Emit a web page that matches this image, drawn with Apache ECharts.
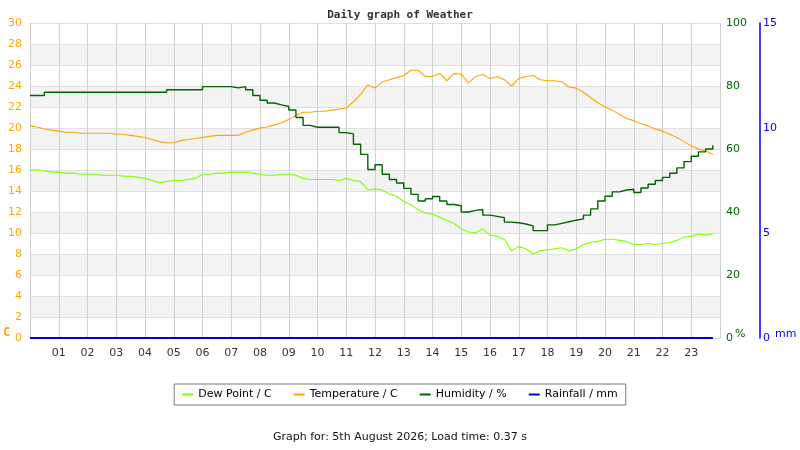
<!DOCTYPE html>
<html>
<head>
<meta charset="utf-8">
<script src="https://cdn.jsdelivr.net/npm/echarts@6/dist/echarts.min.js"></script>
<style>
  html, body { margin: 0; padding: 0; background: #fff; }
  #chart { width: 800px; height: 450px; }
</style>
</head>
<body>
<div id="chart"></div>
<script>
// readings every 15 minutes from 00:00 to 23:45
var dewPoint = [
  16.0, 16.0, 15.9, 15.8, 15.8, 15.7, 15.7, 15.6, 15.6, 15.6, 15.5, 15.5,
  15.5, 15.4, 15.4, 15.3, 15.2, 15.0, 14.8, 14.9, 15.0, 15.0, 15.1, 15.2,
  15.6, 15.6, 15.7, 15.7, 15.8, 15.8, 15.8, 15.7, 15.6, 15.5, 15.5, 15.6,
  15.6, 15.5, 15.2, 15.1, 15.1, 15.1, 15.1, 15.0, 15.2, 15.0, 14.9, 14.1,
  14.2, 14.1, 13.7, 13.5, 13.0, 12.7, 12.2, 11.9, 11.8, 11.5, 11.2, 10.9,
  10.4, 10.1, 10.0, 10.4, 9.8, 9.7, 9.4, 8.3, 8.7, 8.5, 8.0, 8.3,
  8.4, 8.5, 8.6, 8.3, 8.5, 8.9, 9.1, 9.2, 9.4, 9.4, 9.3, 9.2,
  8.9, 8.9, 9.0, 8.9, 9.0, 9.1, 9.3, 9.6, 9.7, 9.9, 9.8, 9.9
];
var temperature = [
  20.2, 20.1, 19.9, 19.8, 19.7, 19.6, 19.6, 19.5, 19.5, 19.5, 19.5, 19.5,
  19.4, 19.4, 19.3, 19.2, 19.1, 18.9, 18.7, 18.6, 18.6, 18.8, 18.9, 19.0,
  19.1, 19.2, 19.3, 19.3, 19.3, 19.3, 19.6, 19.8, 20.0, 20.1, 20.3, 20.5,
  20.8, 21.2, 21.5, 21.5, 21.6, 21.6, 21.7, 21.8, 21.9, 22.5, 23.2, 24.1,
  23.8, 24.4, 24.6, 24.8, 25.0, 25.5, 25.5, 24.9, 24.9, 25.2, 24.5, 25.2,
  25.1, 24.3, 24.9, 25.1, 24.7, 24.9, 24.6, 24.0, 24.7, 24.9, 25.0, 24.6,
  24.5, 24.5, 24.4, 23.9, 23.8, 23.4, 22.9, 22.4, 22.0, 21.7, 21.3, 20.9,
  20.7, 20.4, 20.2, 19.9, 19.7, 19.4, 19.1, 18.7, 18.3, 18.0, 17.8, 17.5
];
var humidity = [
  77, 77, 78, 78, 78, 78, 78, 78, 78, 78, 78, 78,
  78, 78, 78, 78, 78, 78, 78, 78.8, 78.8, 78.8, 78.8, 78.8,
  79.8, 79.8, 79.8, 79.8, 79.4, 79.8, 78.8, 77.0, 75.5, 74.6, 74.0, 73.5,
  72.4, 70.0, 67.5, 66.9, 66.9, 66.9, 66.9, 65.2, 64.8, 61.5, 58.3, 53.5,
  55.0, 52.0, 50.3, 49.2, 47.5, 45.6, 43.5, 44.2, 44.9, 43.5, 42.4, 42.0,
  40.0, 40.5, 40.8, 39.0, 38.6, 38.2, 36.8, 36.6, 36.2, 35.6, 34.1, 34.1,
  35.9, 36.4, 36.9, 37.4, 37.8, 39.0, 41.0, 43.5, 45.0, 46.4, 47.0, 47.2,
  46.2, 47.6, 48.8, 50.0, 51.0, 52.3, 54.0, 56.0, 57.7, 59.1, 60.0, 61.2
];
var rainfall = [
  0, 0, 0, 0, 0, 0, 0, 0, 0, 0, 0, 0, 0, 0, 0, 0, 0, 0, 0, 0, 0, 0, 0, 0,
  0, 0, 0, 0, 0, 0, 0, 0, 0, 0, 0, 0, 0, 0, 0, 0, 0, 0, 0, 0, 0, 0, 0, 0,
  0, 0, 0, 0, 0, 0, 0, 0, 0, 0, 0, 0, 0, 0, 0, 0, 0, 0, 0, 0, 0, 0, 0, 0,
  0, 0, 0, 0, 0, 0, 0, 0, 0, 0, 0, 0, 0, 0, 0, 0, 0, 0, 0, 0, 0, 0, 0, 0
];
var tempTicks = [0, 30, 2];   // min, max, step
var humTicks = [0, 100, 20];
var rainTicks = [0, 15, 5];

// time of each reading in hours
var hours = dewPoint.map(function (v, i) { return i / 4; });
function pairs(vals) {
  return vals.map(function (v, i) { return [hours[i], v]; });
}

var chart = echarts.init(document.getElementById('chart'), null, { renderer: 'canvas' });
var labelFont = 'DejaVu Sans';

chart.setOption({
  animation: false,
  backgroundColor: '#fff',
  title: {
    text: 'Daily graph of Weather',
    left: 'center',
    top: 5,
    textStyle: { fontFamily: 'DejaVu Sans Mono', fontSize: 11, fontWeight: 'bold', color: '#333' }
  },
  grid: { left: 30, right: 80, top: 23, bottom: 112 },
  legend: {
    bottom: 45,
    left: 'center',
    icon: 'rect',
    itemWidth: 11,
    itemHeight: 2,
    itemGap: 22,
    padding: [5, 8],
    borderColor: '#777',
    borderWidth: 1,
    borderRadius: 0,
    textStyle: { fontFamily: labelFont, fontSize: 11, color: '#000' },
    data: ['Dew Point / C', 'Temperature / C', 'Humidity / %', 'Rainfall / mm']
  },
  xAxis: {
    type: 'value',
    min: 0,
    max: 24,
    interval: 1,
    axisLine: { show: true, lineStyle: { color: '#d0d0d0' } },
    axisTick: { show: false },
    axisLabel: {
      margin: 10,
      fontFamily: labelFont,
      fontSize: 11,
      color: '#333',
      formatter: function (v) {
        if (v <= 0 || v >= 24) return '';
        return (v < 10 ? '0' : '') + v;
      }
    },
    splitLine: { show: true, lineStyle: { color: '#d0d0d0' } }
  },
  yAxis: [
    {
      type: 'value',
      min: tempTicks[0], max: tempTicks[1], interval: tempTicks[2],
      position: 'left',
      axisLine: { show: false },
      axisTick: { show: false },
      axisLabel: { margin: 8, fontFamily: labelFont, fontSize: 11, color: '#ffa500' },
      splitLine: { show: true, lineStyle: { color: '#e0e0e0' } },
      splitArea: { show: true, areaStyle: { color: ['#ffffff', '#f3f3f3'] } }
    },
    {
      type: 'value',
      min: humTicks[0], max: humTicks[1], interval: humTicks[2],
      position: 'right',
      axisLine: { show: false },
      axisTick: { show: false },
      axisLabel: { margin: 6, fontFamily: labelFont, fontSize: 11, color: '#006400' },
      splitLine: { show: false }
    },
    {
      type: 'value',
      min: rainTicks[0], max: rainTicks[1], interval: rainTicks[2],
      position: 'right',
      offset: 40,
      axisLine: { show: true, lineStyle: { color: '#0000ff', width: 1.5 } },
      axisTick: { show: false },
      axisLabel: { margin: 3, fontFamily: labelFont, fontSize: 11, color: '#0000ff' },
      splitLine: { show: false }
    }
  ],
  graphic: [
    { type: 'text', left: 3, top: 327, style: { text: 'C', fill: '#ffa500', font: 'bold 12px "DejaVu Sans Mono"' } },
    { type: 'text', left: 735, top: 329, style: { text: '%', fill: '#006400', font: '11px "DejaVu Sans"' } },
    { type: 'text', left: 775, top: 329, style: { text: 'mm', fill: '#0000ff', font: '11px "DejaVu Sans"' } },
    { type: 'text', left: 'center', top: 432, style: { text: 'Graph for: 5th August 2026; Load time: 0.37 s', fill: '#111', font: '11px "DejaVu Sans"' } }
  ],
  series: [
    {
      name: 'Dew Point / C', type: 'line', yAxisIndex: 0, showSymbol: false, symbol: 'none',
      color: '#7fff00', lineStyle: { width: 1.1, color: '#7fff00' },
      data: pairs(dewPoint)
    },
    {
      name: 'Temperature / C', type: 'line', yAxisIndex: 0, showSymbol: false, symbol: 'none',
      color: '#ffa500', lineStyle: { width: 1.1, color: '#ffa500' },
      data: pairs(temperature)
    },
    {
      name: 'Humidity / %', type: 'line', yAxisIndex: 1, showSymbol: false, symbol: 'none', step: 'end',
      color: '#006400', lineStyle: { width: 1.4, color: '#006400' },
      data: pairs(humidity)
    },
    {
      name: 'Rainfall / mm', type: 'line', yAxisIndex: 2, showSymbol: false, symbol: 'none',
      color: '#0000ff', lineStyle: { width: 2, color: '#0000cc' },
      data: pairs(rainfall)
    }
  ]
});
</script>
</body>
</html>
